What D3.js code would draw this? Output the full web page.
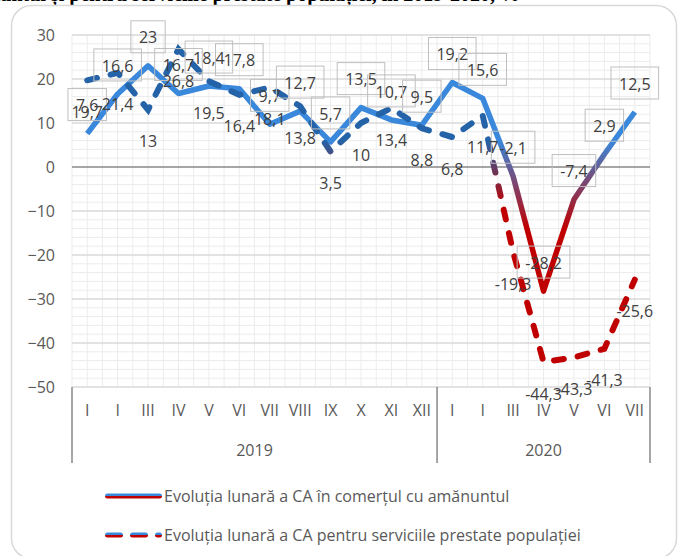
<!DOCTYPE html>
<html>
<head>
<meta charset="utf-8">
<script src="https://cdn.jsdelivr.net/npm/d3@7"></script>
<style>
  body { margin: 0; background: #fff; }
  svg { display: block; font-family: "Open Sans", sans-serif; }
</style>
</head>
<body>
<svg id="chart"></svg>
<script>
// Data
const months2019 = ["I", "I", "III", "IV", "V", "VI", "VII", "VIII", "IX", "X", "XI", "XII"];
const months2020 = ["I", "I", "III", "IV", "V", "VI", "VII"];
const years = ["2019", "2020"];
const retail = [7.6, 16.6, 23, 16.7, 18.4, 17.8, 9.7, 12.7, 5.7, 13.5, 10.7, 9.5,
                19.2, 15.6, -2.1, -28.2, -7.4, 2.9, 12.5];
const services = [19.7, 21.4, 13, 26.8, 19.5, 16.4, 18.1, 13.8, 3.5, 10, 13.4, 8.8,
                  6.8, 11.7, -19.3, -44.3, -43.3, -41.3, -25.6];
const yTicks = [30, 20, 10, 0, -10, -20, -30, -40, -50];
const seriesNames = [
    "Evoluția lunară a CA în comerțul cu amănuntul",
    "Evoluția lunară a CA pentru serviciile prestate populației"
];

// Sizes
const width = 681;
const height = 556;
const marginLeft = 72;
const marginRight = 31;
const plotTop = 35;
const plotBottom = 387;
const fontSize = 16;

const svg = d3.select("#chart")
    .attr("width", width)
    .attr("height", height);

// Title (cut off at the top of the picture)
svg.append("text")
    .attr("x", 520)
    .attr("y", 1)
    .attr("text-anchor", "end")
    .attr("font-family", "'Liberation Serif', serif")
    .attr("font-weight", "bold")
    .attr("font-size", 20)
    .attr("fill", "#000")
    .text("Evoluția lunară a CA în comerțul cu amănuntul și pentru serviciile prestate populației, în 2019-2020, %");

// Chart frame
svg.append("rect")
    .attr("x", 11.5)
    .attr("y", 5.5)
    .attr("width", 665)
    .attr("height", 553)
    .attr("rx", 20)
    .attr("fill", "none")
    .attr("stroke", "#d9d9d9")
    .attr("stroke-width", 1.5);

// Scales
const labels = months2019.concat(months2020);
const x = d3.scaleBand()
    .domain(d3.range(labels.length))
    .range([marginLeft, width - marginRight])
    .padding(0);
const bw = x.bandwidth();
const cx = i => x(i) + bw / 2;

const y = d3.scaleLinear()
    .domain([-50, 30])
    .range([plotBottom, plotTop]);

// Gradients (blue above zero, red below)
const defs = svg.append("defs");
function addGradient(id, blue, top, bottom) {
    const g = defs.append("linearGradient")
        .attr("id", id)
        .attr("gradientUnits", "userSpaceOnUse")
        .attr("x1", 0).attr("x2", 0)
        .attr("y1", y(top)).attr("y2", y(bottom));
    g.append("stop").attr("offset", 0).attr("stop-color", blue);
    g.append("stop").attr("offset", 1).attr("stop-color", "#c00000");
}
addGradient("gradRetail", "#3a88db", 6, -14);
addGradient("gradServices", "#2463a8", 6, -9);

// Grid
const grid = svg.append("g");
const minorY = d3.range(-50, 31, 2).filter(v => v % 10 !== 0);
grid.selectAll(".minor-h")
    .data(minorY)
    .join("line")
    .attr("x1", x.range()[0]).attr("x2", x.range()[1])
    .attr("y1", d => y(d)).attr("y2", d => y(d))
    .attr("stroke", "#ececec").attr("stroke-width", 1);

const vx = [];
labels.forEach((d, i) => { vx.push(x(i)); vx.push(cx(i)); });
vx.push(x.range()[1]);
grid.selectAll(".minor-v")
    .data(vx)
    .join("line")
    .attr("x1", d => d).attr("x2", d => d)
    .attr("y1", plotTop).attr("y2", plotBottom)
    .attr("stroke", "#ececec").attr("stroke-width", 1);

grid.selectAll(".major-h")
    .data(yTicks.filter(v => v !== 0))
    .join("line")
    .attr("x1", x.range()[0]).attr("x2", x.range()[1])
    .attr("y1", d => y(d)).attr("y2", d => y(d))
    .attr("stroke", "#d9d9d9").attr("stroke-width", 1.5);

// Zero line
svg.append("line")
    .attr("x1", x.range()[0]).attr("x2", x.range()[1])
    .attr("y1", y(0)).attr("y2", y(0))
    .attr("stroke", "#898989").attr("stroke-width", 1.5);

// y-axis
svg.append("g")
    .attr("transform", `translate(${marginLeft - 17},0)`)
    .call(d3.axisLeft(y).tickValues(yTicks).tickSize(0).tickPadding(0))
    .call(g => g.select(".domain").remove())
    .call(g => g.selectAll("text")
        .attr("font-family", "'Open Sans', sans-serif")
        .attr("font-size", fontSize)
        .attr("fill", "#595959"));

// x-axis (months)
svg.append("g")
    .attr("transform", `translate(0,${plotBottom})`)
    .call(d3.axisBottom(x).tickFormat(i => labels[i]).tickSize(0).tickPadding(18))
    .call(g => g.select(".domain").remove())
    .call(g => g.selectAll("text")
        .attr("font-family", "'Open Sans', sans-serif")
        .attr("font-size", fontSize)
        .attr("fill", "#595959"));

// year separators and labels
const yearSpans = [
    [0, months2019.length - 1],
    [months2019.length, labels.length - 1]
];
const sepX = [x(0), x(months2019.length), x.range()[1]];
svg.selectAll(".sep")
    .data(sepX)
    .join("line")
    .attr("x1", d => d).attr("x2", d => d)
    .attr("y1", plotBottom).attr("y2", 463)
    .attr("stroke", "#898989").attr("stroke-width", 1.5);

svg.selectAll(".year")
    .data(years)
    .join("text")
    .attr("x", (d, i) => (x(yearSpans[i][0]) + x(yearSpans[i][1]) + bw) / 2)
    .attr("y", 450)
    .attr("dy", "0.35em")
    .attr("text-anchor", "middle")
    .attr("font-size", fontSize)
    .attr("fill", "#595959")
    .text(d => d);

// Lines
const line = d3.line()
    .x((d, i) => cx(i))
    .y(d => y(d));

svg.append("path")
    .datum(retail)
    .attr("d", line)
    .attr("fill", "none")
    .attr("stroke", "url(#gradRetail)")
    .attr("stroke-width", 5.5)
    .attr("stroke-linejoin", "round");

svg.append("path")
    .datum(services)
    .attr("d", line)
    .attr("fill", "none")
    .attr("stroke", "url(#gradServices)")
    .attr("stroke-width", 6)
    .attr("stroke-linecap", "round")
    .attr("stroke-dasharray", "10,14");

// Data labels
const fmt = v => String(v).replace(".", ",");

const retailLabels = svg.append("g")
    .selectAll("g")
    .data(retail)
    .join("g");
retailLabels.append("text")
    .attr("x", (d, i) => cx(i))
    .attr("y", d => y(d) - 28)
    .attr("dy", "0.35em")
    .attr("text-anchor", "middle")
    .attr("font-size", fontSize)
    .attr("fill", "#404040")
    .text(fmt);
retailLabels.each(function(d, i) {
    const bb = d3.select(this).select("text").node().getBBox();
    d3.select(this).insert("rect", "text")
        .attr("x", bb.x - 8)
        .attr("y", y(d) - 28 - 17)
        .attr("width", bb.width + 16)
        .attr("height", 32)
        .attr("fill", "none")
        .attr("stroke", "#bfbfbf")
        .attr("stroke-width", 1);
});

svg.append("g")
    .selectAll("text")
    .data(services)
    .join("text")
    .attr("x", (d, i) => cx(i))
    .attr("y", d => y(d) + 32)
    .attr("dy", "0.35em")
    .attr("text-anchor", "middle")
    .attr("font-size", fontSize)
    .attr("fill", "#404040")
    .text(fmt);

// Legend
const legendGrad = defs.append("linearGradient")
    .attr("id", "legendGrad")
    .attr("x1", 0).attr("x2", 0).attr("y1", 0).attr("y2", 1);
legendGrad.append("stop").attr("offset", 0.55).attr("stop-color", "#3a88db");
legendGrad.append("stop").attr("offset", 0.55).attr("stop-color", "#c00000");

const legend = svg.append("g");
const legendY = [496, 535];
legend.selectAll("rect.sample")
    .data([0])
    .join("rect")
    .attr("x", 105).attr("y", legendY[0] - 2.5)
    .attr("width", 57).attr("height", 5)
    .attr("rx", 2.5)
    .attr("fill", "url(#legendGrad)");

legend.selectAll("rect.dash")
    .data([105, 130, 155])
    .join("rect")
    .attr("x", d => d).attr("y", legendY[1] - 2.5)
    .attr("width", (d, i) => i === 2 ? 7 : 18).attr("height", 5)
    .attr("rx", 2.5)
    .attr("fill", "url(#legendGrad)");

legend.selectAll("text")
    .data(seriesNames)
    .join("text")
    .attr("x", 164)
    .attr("y", (d, i) => legendY[i])
    .attr("dy", "0.35em")
    .attr("font-size", fontSize)
    .attr("fill", "#595959")
    .text(d => d);
</script>
</body>
</html>
